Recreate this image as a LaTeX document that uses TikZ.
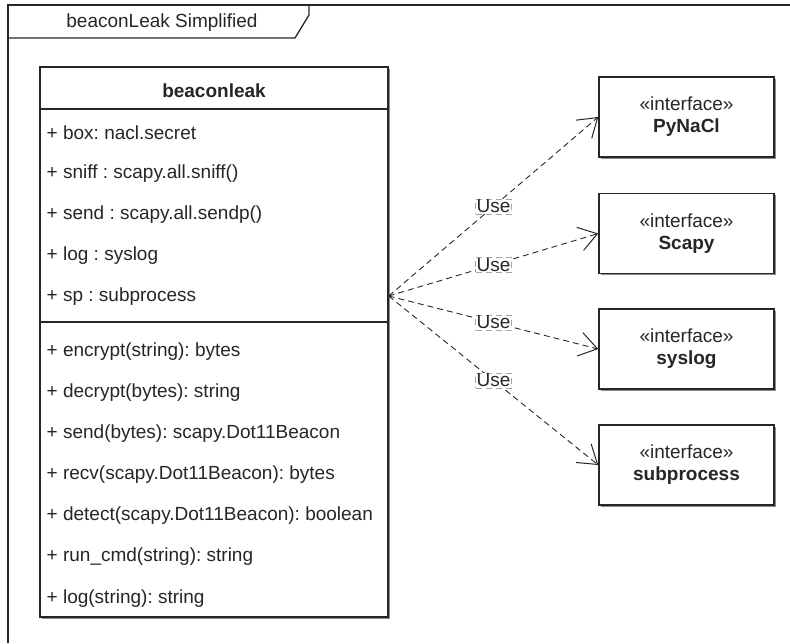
\documentclass[tikz,border=0pt]{standalone}
\usepackage{fontspec}
\setmainfont{Liberation Sans}
\usetikzlibrary{arrows.meta,shadows}

\definecolor{ink}{HTML}{262626}

\begin{document}
\frenchspacing
\begin{tikzpicture}[x=1pt,y=-1pt,
  font=\fontsize{19}{22}\selectfont,
  frameline/.style={draw=ink,line width=1.3pt},
  boxshadow/.style={drop shadow={shadow xshift=1.6pt,shadow yshift=-1.6pt,fill=black!45,opacity=1}},
  classbox/.style={draw=ink,line width=1.4pt,fill=white,boxshadow,
    minimum width=348pt,minimum height=550pt,inner sep=0pt},
  member/.style={anchor=west,inner sep=0pt,text=ink},
  iface/.style={draw=ink,line width=1.4pt,fill=white,boxshadow,
    minimum width=175pt,minimum height=80pt,align=center,text=ink,inner sep=0pt},
  usearrow/.style={draw=ink,line width=0.9pt,dash pattern=on 6pt off 4pt,
    -{Straight Barb[length=18pt,width=24pt,line width=1pt]}},
  uselabel/.style={draw=black!35,line width=0.6pt,fill=white,inner sep=0.9pt,text=ink}
]
\useasboundingbox (0,0) rectangle (790,643);

% package frame with its name tab
\draw[frameline] (790,5) -- (8,5) -- (8,643);
\draw[frameline] (8,38) -- (295,38) -- (309,15) -- (309,5);
\node[text=ink] (framename) at (162,23) {beaconLeak Simplified};

% class beaconleak
\node[classbox] (cls) at (214,342) {};
\node[text=ink,font=\fontsize{19}{22}\selectfont\bfseries] (clsname) at (214,91) {beaconleak};
\draw[ink,line width=1.4pt] (cls.west |- 0,109) -- (cls.east |- 0,109);
\draw[ink,line width=1.4pt] (cls.west |- 0,322) -- (cls.east |- 0,322);

\node[member] (a1) at (46.5,133) {+ box: nacl.secret};
\node[member] (a2) at (46.5,174) {+ sniff : scapy.all.sniff()};
\node[member] (a3) at (46.5,215) {+ send : scapy.all.sendp()};
\node[member] (a4) at (46.5,256) {+ log : syslog};
\node[member] (a5) at (46.5,297) {+ sp : subprocess};

\node[member] (m1) at (46.5,352) {+ encrypt(string): bytes};
\node[member] (m2) at (46.5,393) {+ decrypt(bytes): string};
\node[member] (m3) at (46.5,434) {+ send(bytes): scapy.Dot11Beacon};
\node[member] (m4) at (46.5,475) {+ recv(scapy.Dot11Beacon): bytes};
\node[member] (m5) at (46.5,516) {+ detect(scapy.Dot11Beacon): boolean};
\node[member] (m6) at (46.5,557) {+ run\_cmd(string): string};
\node[member] (m7) at (46.5,599) {+ log(string): string};

% interfaces
\node[iface] (pynacl) at (686.5,117) {«interface»\\\textbf{PyNaCl}};
\node[iface] (scapy) at (686.5,233.5) {«interface»\\\textbf{Scapy}};
\node[iface] (syslog) at (686.5,349) {«interface»\\\textbf{syslog}};
\node[iface] (subproc) at (686.5,465) {«interface»\\\textbf{subprocess}};

% usage dependencies
\coordinate (src) at (cls.east |- 0,296);
\fill[ink] (src) circle (1.5pt);
\draw[usearrow] (src) -- node[uselabel] (u1) {Use} (pynacl.west);
\draw[usearrow] (src) -- node[uselabel] (u2) {Use} (scapy.west);
\draw[usearrow] (src) -- node[uselabel] (u3) {Use} (syslog.west);
\draw[usearrow] (src) -- node[uselabel] (u4) {Use} (subproc.west);
\end{tikzpicture}
\end{document}
